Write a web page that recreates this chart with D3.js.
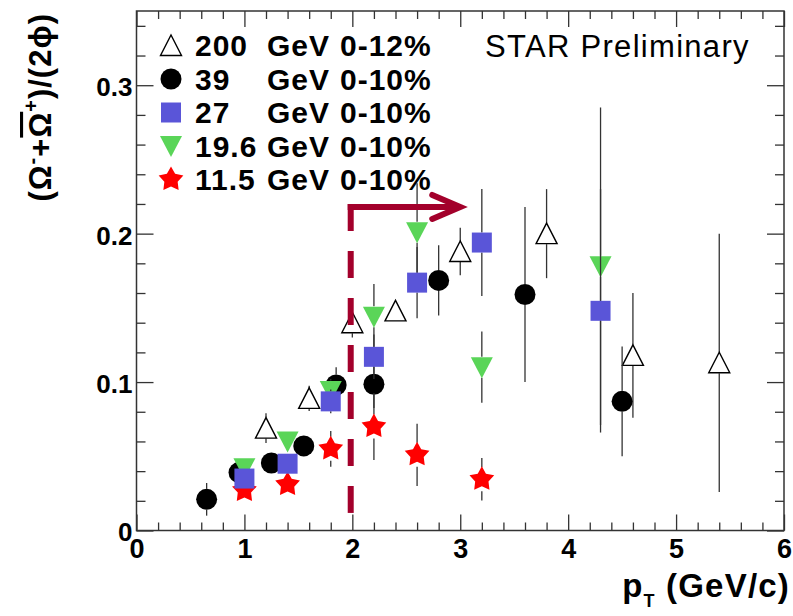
<!DOCTYPE html>
<html>
<head>
<meta charset="utf-8">
<script src="https://cdn.jsdelivr.net/npm/d3@7"></script>
<style>
  html, body { margin: 0; padding: 0; background: #fff; }
  svg { display: block; font-family: "Liberation Sans", Arial, Helvetica, sans-serif; }
</style>
</head>
<body>
<svg id="chart" width="793" height="616"></svg>
<script>
// ---------------- data ----------------
const xMajorTicks = [0, 1, 2, 3, 4, 5, 6];
const yMajorTicks = [0, 0.1, 0.2, 0.3];

const pt200 = [1.2, 1.6, 2.0, 2.4, 3.0, 3.8, 4.6, 5.4];
const val200 = [0.069, 0.089, 0.140, 0.148, 0.188, 0.200, 0.118, 0.113];
const err200 = [0.010, 0.0085, 0.010, 0.005, 0.016, 0.030, 0.042, 0.087];

const pt39 = [0.65, 0.95, 1.25, 1.55, 1.85, 2.2, 2.8, 3.6, 4.5];
const val39 = [0.021, 0.039, 0.0455, 0.057, 0.098, 0.0985, 0.1685, 0.159, 0.087];
const err39 = [0.011, 0.006, 0.005, 0.006, 0.012, 0.016, 0.0236, 0.059, 0.037];

const pt27 = [1.0, 1.4, 1.8, 2.2, 2.6, 3.2, 4.3];
const val27 = [0.035, 0.045, 0.087, 0.117, 0.167, 0.194, 0.148];
const err27 = [0.006, 0.006, 0.008, 0.015, 0.024, 0.036, 0.082];

const pt19 = [1.0, 1.4, 1.8, 2.2, 2.6, 3.2, 4.3];
const val19 = [0.042, 0.060, 0.094, 0.144, 0.201, 0.110, 0.178];
const err19 = [0.006, 0.006, 0.008, 0.022, 0.033, 0.024, 0.107];

const pt11 = [1.0, 1.4, 1.8, 2.2, 2.6, 3.2];
const val11 = [0.027, 0.031, 0.055, 0.070, 0.051, 0.0345];
const err11 = [0.008, 0.006, 0.012, 0.0225, 0.021, 0.0143];

const legendEnergy = ["200", "39", "27", "19.6", "11.5"];
const legendUnit = ["GeV", "GeV", "GeV", "GeV", "GeV"];
const legendCent = ["0-12%", "0-10%", "0-10%", "0-10%", "0-10%"];

// arrow annotation (data coordinates)
const arrowPt = [1.985, 3.0];
const arrowVal = [0.0118, 0.218];

// ---------------- layout ----------------
const svg = d3.select("#chart");
const X0 = 136.5, X1 = 784, Y0 = 530.5, Y1 = 11;
const x = d3.scaleLinear().domain([0, 6]).range([X0, X1]);
const y = d3.scaleLinear().domain([0, 0.35]).range([Y0, Y1]);

const AXIS = "#333";
const xMinor = d3.range(0, 6.001, 0.2).filter(v => Math.abs(v - Math.round(v)) > 1e-6);
const yMinor = d3.range(0, 0.3501, 0.02).filter(v => Math.abs(v * 10 - Math.round(v * 10)) > 1e-6);

function styleAxis(g) {
  g.selectAll("path.domain").remove();
  g.selectAll("line").attr("stroke", AXIS).attr("stroke-width", 1.3);
}

// bottom
svg.append("g").attr("transform", `translate(0,${Y0})`)
  .call(d3.axisBottom(x).tickValues(xMajorTicks).tickSizeInner(-16).tickSizeOuter(0).tickPadding(8)
        .tickFormat(d3.format("d")))
  .call(styleAxis)
  .call(g => g.selectAll("text").attr("font-size", 27).attr("font-weight", "bold")
      .attr("fill", "#000").attr("font-family", "Liberation Sans, Arial, sans-serif"));
svg.append("g").attr("transform", `translate(0,${Y0})`)
  .call(d3.axisBottom(x).tickValues(xMinor).tickSizeInner(-8).tickSizeOuter(0).tickFormat(""))
  .call(styleAxis);
// top
svg.append("g").attr("transform", `translate(0,${Y1})`)
  .call(d3.axisTop(x).tickValues(xMajorTicks).tickSizeInner(-16).tickSizeOuter(0).tickFormat(""))
  .call(styleAxis);
svg.append("g").attr("transform", `translate(0,${Y1})`)
  .call(d3.axisTop(x).tickValues(xMinor).tickSizeInner(-8).tickSizeOuter(0).tickFormat(""))
  .call(styleAxis);
// left
svg.append("g").attr("transform", `translate(${X0},0)`)
  .call(d3.axisLeft(y).tickValues(yMajorTicks).tickSizeInner(-17).tickSizeOuter(0).tickPadding(4)
        .tickFormat(d => d === 0 ? "0" : d.toFixed(1)))
  .call(styleAxis)
  .call(g => g.selectAll("text").attr("font-size", 26).attr("font-weight", "bold")
      .attr("fill", "#000").attr("dy", "0.4em").attr("font-family", "Liberation Sans, Arial, sans-serif"));
svg.append("g").attr("transform", `translate(${X0},0)`)
  .call(d3.axisLeft(y).tickValues(yMinor).tickSizeInner(-9).tickSizeOuter(0).tickFormat(""))
  .call(styleAxis);
// right
svg.append("g").attr("transform", `translate(${X1},0)`)
  .call(d3.axisRight(y).tickValues(yMajorTicks).tickSizeInner(-17).tickSizeOuter(0).tickFormat(""))
  .call(styleAxis);
svg.append("g").attr("transform", `translate(${X1},0)`)
  .call(d3.axisRight(y).tickValues(yMinor).tickSizeInner(-9).tickSizeOuter(0).tickFormat(""))
  .call(styleAxis);

// frame
svg.append("rect").attr("x", X0).attr("y", Y1).attr("width", X1 - X0).attr("height", Y0 - Y1)
  .attr("fill", "none").attr("stroke", AXIS).attr("stroke-width", 1.5);

// ---------------- markers ----------------
function starPath(R, r) {
  const pts = [];
  for (let i = 0; i < 10; i++) {
    const a = -Math.PI / 2 + i * Math.PI / 5;
    const rad = i % 2 === 0 ? R : r;
    pts.push([rad * Math.cos(a), rad * Math.sin(a)]);
  }
  return "M" + pts.map(p => p[0].toFixed(2) + "," + p[1].toFixed(2)).join("L") + "Z";
}
const shapes = {
  triUp: { path: "M-10.5,10L10.5,10L0,-10.5Z", fill: "none", stroke: "#000", sw: 1.4, half: 10.5 },
  circle: { path: d3.symbol(d3.symbolCircle, Math.PI * 10.5 * 10.5)(), fill: "#000", stroke: "none", sw: 0, half: 10.5 },
  square: { path: "M-10,-10L10,-10L10,10L-10,10Z", fill: "#5a55d8", stroke: "none", sw: 0, half: 10 },
  triDown: { path: "M-11,-10L11,-10L0,11Z", fill: "#5ad558", stroke: "none", sw: 0, half: 10.5 },
  star: { path: starPath(13, 7), fill: "#ff0000", stroke: "none", sw: 0, half: 12 }
};

const seriesList = [
  { pts: pt200, vals: val200, errs: err200, shape: "triUp" },
  { pts: pt39, vals: val39, errs: err39, shape: "circle" },
  { pts: pt19, vals: val19, errs: err19, shape: "triDown" },
  { pts: pt11, vals: val11, errs: err11, shape: "star" },
  { pts: pt27, vals: val27, errs: err27, shape: "square" }
];

const gData = svg.append("g");
seriesList.forEach(s => {
  const sh = shapes[s.shape];
  const rows = s.pts.map((p, i) => ({ p, v: s.vals[i], e: s.errs[i] }));
  const g = gData.append("g");
  // error bars (drawn outside the marker, ROOT style)
  rows.forEach(d => {
    const cx = x(d.p), cy = y(d.v);
    const top = y(d.v + d.e), bot = y(d.v - d.e);
    if (cy - top > sh.half) {
      g.append("line").attr("x1", cx).attr("x2", cx).attr("y1", top).attr("y2", cy - sh.half)
        .attr("stroke", "#333").attr("stroke-width", 1.3);
      g.append("line").attr("x1", cx).attr("x2", cx).attr("y1", cy + sh.half).attr("y2", bot)
        .attr("stroke", "#333").attr("stroke-width", 1.3);
    }
  });
  g.selectAll("path.m").data(rows).join("path").attr("class", "m")
    .attr("d", sh.path)
    .attr("transform", d => `translate(${x(d.p)},${y(d.v)})`)
    .attr("fill", sh.fill).attr("stroke", sh.stroke).attr("stroke-width", sh.sw);
});

// ---------------- arrow annotation ----------------
const ARROW = "#a3002b";
svg.append("line")
  .attr("x1", x(arrowPt[0])).attr("x2", x(arrowPt[0]))
  .attr("y1", y(arrowVal[1]) - 3).attr("y2", y(arrowVal[0]))
  .attr("stroke", ARROW).attr("stroke-width", 6).attr("stroke-dasharray", "27,20");
svg.append("line")
  .attr("x1", x(arrowPt[0]) - 3).attr("x2", x(arrowPt[1]))
  .attr("y1", y(arrowVal[1])).attr("y2", y(arrowVal[1]))
  .attr("stroke", ARROW).attr("stroke-width", 6);
svg.append("path")
  .attr("d", `M${x(arrowPt[1]) - 28},${y(arrowVal[1]) - 12}L${x(arrowPt[1])},${y(arrowVal[1])}L${x(arrowPt[1]) - 28},${y(arrowVal[1]) + 12}`)
  .attr("fill", "none").attr("stroke", ARROW).attr("stroke-width", 6)
  .attr("stroke-linecap", "round").attr("stroke-linejoin", "miter");

// ---------------- legend ----------------
const legendShapes = ["triUp", "circle", "square", "triDown", "star"];
const lg = svg.append("g");
legendEnergy.forEach((e, i) => {
  const cy = 45.5 + i * 33.5;
  const sh = shapes[legendShapes[i]];
  lg.append("path").attr("d", sh.path).attr("transform", `translate(171,${cy})`)
    .attr("fill", sh.fill).attr("stroke", sh.stroke).attr("stroke-width", sh.sw);
  const t = lg.append("g").attr("font-size", 30).attr("font-weight", "bold").attr("fill", "#000")
    .attr("letter-spacing", "1px");
  t.append("text").attr("x", 195).attr("y", cy + 10.5).text(e);
  t.append("text").attr("x", 267).attr("y", cy + 10.5).text(legendUnit[i]);
  t.append("text").attr("x", 340).attr("y", cy + 10.5).text(legendCent[i]);
});

// ---------------- texts ----------------
svg.append("text").attr("x", 485).attr("y", 57).attr("font-size", 31).attr("letter-spacing", "1.3px")
  .attr("fill", "#000").text("STAR Preliminary");

const xt = svg.append("text").attr("x", 790).attr("y", 597).attr("text-anchor", "end")
  .attr("font-size", 33).attr("font-weight", "bold").attr("letter-spacing", "1.2px");
xt.append("tspan").text("p");
xt.append("tspan").attr("font-size", 18).attr("dy", 10).text("T");
xt.append("tspan").attr("dy", -10).text(" (GeV/c)");

const yt = svg.append("text").attr("transform", "translate(51,13) rotate(-90)").attr("text-anchor", "end")
  .attr("font-size", 31).attr("font-weight", "bold").attr("letter-spacing", "1px");
yt.append("tspan").text("(Ω");
yt.append("tspan").attr("font-size", 20).attr("dy", -12).text("-");
yt.append("tspan").attr("dy", 12).text("+");
yt.append("tspan").style("text-decoration", "overline").text("Ω");
yt.append("tspan").attr("font-size", 20).attr("dy", -13).text("+");
yt.append("tspan").attr("dy", 13).text(")/(2ϕ)");
</script>
</body>
</html>
